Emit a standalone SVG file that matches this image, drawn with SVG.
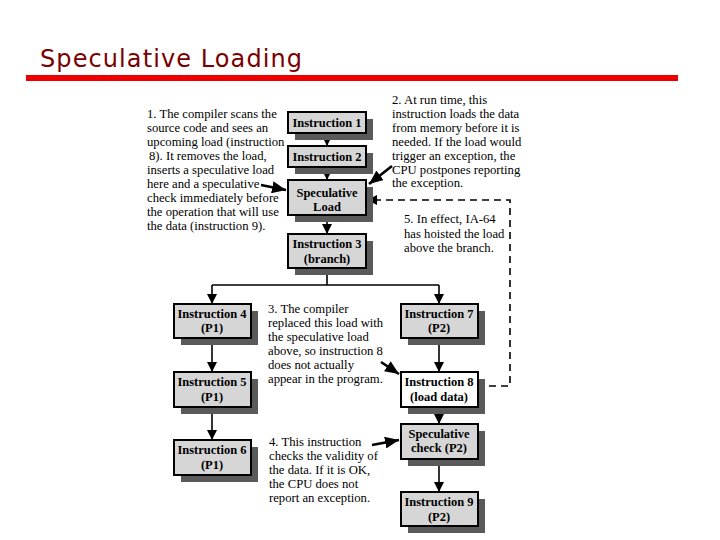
<svg xmlns="http://www.w3.org/2000/svg" width="720" height="540" viewBox="0 0 720 540">
<style>
.sh{fill:#5a5a5a}
.bx{fill:#d6d6d6;stroke:#000;stroke-width:2}
.bw{fill:#fff;stroke:#000;stroke-width:2}
.bt{font-family:"Liberation Serif","Times New Roman",serif;font-weight:bold;font-size:12.5px;fill:#000;text-anchor:middle}
.nt{font-family:"Liberation Serif","Times New Roman",serif;font-size:12.7px;fill:#000}
.cn{stroke:#000;stroke-width:1.6;fill:none}
.co{stroke:#000;stroke-width:2.6;fill:none}
</style>
<defs>
<marker id="ah" markerUnits="userSpaceOnUse" markerWidth="10" markerHeight="10" refX="10" refY="5" orient="auto"><path d="M0,0 L10,5 L0,10 z" fill="#000"/></marker>
<marker id="big" markerUnits="userSpaceOnUse" markerWidth="14" markerHeight="12" refX="14" refY="6" orient="auto"><path d="M0,0 L14,6 L0,12 z" fill="#000"/></marker>
</defs>
<rect width="720" height="540" fill="#fff"/>
<g id="title">
<text x="40" y="67" font-family="'Comic Sans MS','DejaVu Sans',sans-serif" font-size="24" fill="#7a0000" textLength="262">Speculative Loading</text>
<rect x="26" y="75" width="652" height="6" fill="#ee0000"/>
</g>
<g id="connectors">
<path class="cn" d="M327,133 V146" marker-end="url(#ah)"/>
<path class="cn" d="M327,167 V180" marker-end="url(#ah)"/>
<path class="cn" d="M327,215 V234" marker-end="url(#ah)"/>
<path class="cn" d="M327,268 V285 M212,285 H439"/>
<path class="cn" d="M212,285 V304" marker-end="url(#ah)"/>
<path class="cn" d="M439,285 V304" marker-end="url(#ah)"/>
<path class="cn" d="M212,338 V372" marker-end="url(#ah)"/>
<path class="cn" d="M212,407 V440" marker-end="url(#ah)"/>
<path class="cn" d="M439,338 V372" marker-end="url(#ah)"/>
<path class="cn" d="M439,407 V424" marker-end="url(#ah)"/>
<path class="cn" d="M439,459 V492" marker-end="url(#ah)"/>
<path class="cn" d="M477,386 H510 V200 H367" stroke-dasharray="7,5" marker-end="url(#ah)"/>
<path class="co" d="M261,185 L286,190" marker-end="url(#big)"/>
<path class="co" d="M392,166 L369,184" marker-end="url(#big)"/>
<path class="co" d="M381,362 L399,374" marker-end="url(#big)"/>
<path class="co" d="M372,445 L399,440" marker-end="url(#big)"/>
</g>
<g id="i1"><rect class="sh" x="295" y="119" width="78" height="21"/><rect class="bx" x="288" y="112" width="78" height="21"/><text class="bt" x="327" y="127">Instruction 1</text></g>
<g id="i2"><rect class="sh" x="295" y="153" width="78" height="21"/><rect class="bx" x="288" y="146" width="78" height="21"/><text class="bt" x="327" y="161">Instruction 2</text></g>
<g id="sl"><rect class="sh" x="295" y="187" width="78" height="35"/><rect class="bx" x="288" y="180" width="78" height="35"/><text class="bt" x="327" y="197" font-size="13.5">Speculative</text><text class="bt" x="327" y="211">Load</text></g>
<g id="i3"><rect class="sh" x="295" y="241" width="78" height="34"/><rect class="bx" x="288" y="234" width="78" height="34"/><text class="bt" x="327" y="248">Instruction 3</text><text class="bt" x="327" y="263">(branch)</text></g>
<g id="i4"><rect class="sh" x="181" y="311" width="77" height="34"/><rect class="bx" x="174" y="304" width="77" height="34"/><text class="bt" x="212" y="318">Instruction 4</text><text class="bt" x="212" y="332">(P1)</text></g>
<g id="i5"><rect class="sh" x="181" y="379" width="77" height="35"/><rect class="bx" x="174" y="372" width="77" height="35"/><text class="bt" x="212" y="386">Instruction 5</text><text class="bt" x="212" y="401">(P1)</text></g>
<g id="i6"><rect class="sh" x="181" y="447" width="77" height="35"/><rect class="bx" x="174" y="440" width="77" height="35"/><text class="bt" x="212" y="454">Instruction 6</text><text class="bt" x="212" y="469">(P1)</text></g>
<g id="i7"><rect class="sh" x="408" y="311" width="77" height="34"/><rect class="bx" x="401" y="304" width="77" height="34"/><text class="bt" x="439" y="318">Instruction 7</text><text class="bt" x="439" y="332">(P2)</text></g>
<g id="i8"><rect class="sh" x="408" y="379" width="77" height="35"/><rect class="bw" x="401" y="372" width="77" height="35"/><text class="bt" x="439" y="386">Instruction 8</text><text class="bt" x="439" y="401">(load data)</text></g>
<g id="sc"><rect class="sh" x="408" y="431" width="77" height="35"/><rect class="bx" x="401" y="424" width="77" height="35"/><text class="bt" x="439" y="438">Speculative</text><text class="bt" x="439" y="452">check (P2)</text></g>
<g id="i9"><rect class="sh" x="408" y="499" width="77" height="34"/><rect class="bx" x="401" y="492" width="77" height="34"/><text class="bt" x="439" y="506">Instruction 9</text><text class="bt" x="439" y="521">(P2)</text></g>
<g id="note1" class="nt">
<text x="147" y="118">1. The compiler scans the</text>
<text x="147" y="132">source code and sees an</text>
<text x="147" y="146">upcoming load (instruction</text>
<text x="149" y="160">8). It removes the load,</text>
<text x="147" y="174">inserts a speculative load</text>
<text x="147" y="188">here and a speculative</text>
<text x="147" y="202">check immediately before</text>
<text x="147" y="216">the operation that will use</text>
<text x="147" y="230">the data (instruction 9).</text>
</g>
<g id="note2" class="nt">
<text x="392" y="104">2. At run time, this</text>
<text x="392" y="118">instruction loads the data</text>
<text x="392" y="132">from memory  before it is</text>
<text x="392" y="146">needed. If the load would</text>
<text x="392" y="160">trigger an exception, the</text>
<text x="392" y="174">CPU postpones reporting</text>
<text x="392" y="187">the exception.</text>
</g>
<g id="note5" class="nt">
<text x="404" y="223">5. In effect, IA-64</text>
<text x="404" y="238">has hoisted the load</text>
<text x="404" y="252">above the branch.</text>
</g>
<g id="note3" class="nt">
<text x="268" y="313">3. The compiler</text>
<text x="268" y="327">replaced this load with</text>
<text x="268" y="341">the speculative load</text>
<text x="268" y="355">above, so instruction 8</text>
<text x="268" y="369">does not actually</text>
<text x="268" y="383">appear in the program.</text>
</g>
<g id="note4" class="nt">
<text x="269" y="446">4. This instruction</text>
<text x="269" y="460">checks the validity of</text>
<text x="269" y="474">the data. If it is OK,</text>
<text x="269" y="488">the CPU does not</text>
<text x="269" y="502">report an exception.</text>
</g>
</svg>
